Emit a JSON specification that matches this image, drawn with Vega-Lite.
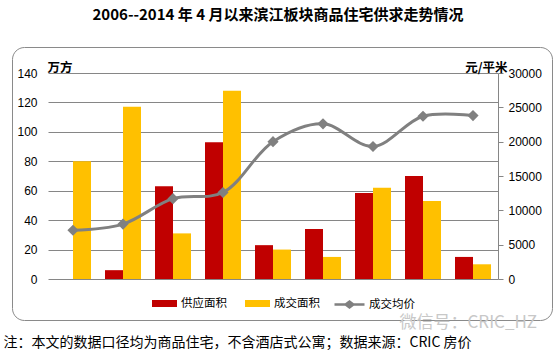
{
  "$schema": "https://vega.github.io/schema/vega-lite/v6.json",
  "width": 540,
  "height": 273,
  "autosize": {"type": "none"},
  "padding": {"left": 12, "top": 47, "right": 4, "bottom": 31},
  "background": "white",
  "config": {"view": {"stroke": "#8a8a8a", "strokeWidth": 1, "cornerRadius": 12}},
  "title": {
    "text": "2006--2014 年 4 月以来滨江板块商品住宅供求走势情况",
    "fontSize": 15,
    "fontWeight": "bold",
    "font": "Noto Sans CJK SC",
    "color": "#000000",
    "anchor": "middle",
    "offset": 24,
    "dx": -4
  },
  "datasets": {
    "area": [
      {"year": "2006", "series": "供应面积", "value": 0},
      {"year": "2006", "series": "成交面积", "value": 80},
      {"year": "2007", "series": "供应面积", "value": 6},
      {"year": "2007", "series": "成交面积", "value": 117},
      {"year": "2008", "series": "供应面积", "value": 63},
      {"year": "2008", "series": "成交面积", "value": 31},
      {"year": "2009", "series": "供应面积", "value": 93},
      {"year": "2009", "series": "成交面积", "value": 128},
      {"year": "2010", "series": "供应面积", "value": 23},
      {"year": "2010", "series": "成交面积", "value": 20},
      {"year": "2011", "series": "供应面积", "value": 34},
      {"year": "2011", "series": "成交面积", "value": 15},
      {"year": "2012", "series": "供应面积", "value": 58.5},
      {"year": "2012", "series": "成交面积", "value": 62},
      {"year": "2013", "series": "供应面积", "value": 70},
      {"year": "2013", "series": "成交面积", "value": 53},
      {"year": "2014", "series": "供应面积", "value": 15},
      {"year": "2014", "series": "成交面积", "value": 10}
    ],
    "price": [
      {"year": "2006", "series": "成交均价", "price": 7100},
      {"year": "2007", "series": "成交均价", "price": 8000},
      {"year": "2008", "series": "成交均价", "price": 11700},
      {"year": "2009", "series": "成交均价", "price": 12600},
      {"year": "2010", "series": "成交均价", "price": 20000},
      {"year": "2011", "series": "成交均价", "price": 22600},
      {"year": "2012", "series": "成交均价", "price": 19300},
      {"year": "2013", "series": "成交均价", "price": 23700},
      {"year": "2014", "series": "成交均价", "price": 23800}
    ]
  },
  "layer": [
    {
      "data": {"name": "area"},
      "mark": {"type": "bar"},
      "encoding": {
        "x": {
          "field": "year",
          "type": "nominal",
          "sort": null,
          "scale": {"range": [36, 486], "paddingInner": 0.28, "paddingOuter": 0.14},
          "axis": {
            "orient": "bottom",
            "labels": false,
            "ticks": false,
            "domain": false,
            "grid": false,
            "title": "注：本文的数据口径均为商品住宅，不含酒店式公寓；数据来源：CRIC 房价",
            "titleX": -9,
            "titleY": 26,
            "titleAlign": "left",
            "titleAnchor": "start",
            "titleBaseline": "alphabetic",
            "titleFontSize": 14,
            "titleFontWeight": "normal",
            "titleFont": "Noto Sans CJK SC",
            "titleColor": "#000000"
          }
        },
        "xOffset": {"field": "series", "type": "nominal", "sort": ["供应面积", "成交面积"]},
        "y": {
          "field": "value",
          "type": "quantitative",
          "scale": {"domain": [0, 140], "range": [232, 26], "nice": false},
          "axis": {
            "orient": "left",
            "offset": -36,
            "values": [0, 20, 40, 60, 80, 100, 120, 140],
            "domain": false,
            "ticks": false,
            "labelPadding": 11,
            "labelFont": "Liberation Sans",
            "labelFontSize": 12,
            "labelColor": "#000000",
            "grid": true,
            "gridColor": "#868686",
            "gridWidth": 1,
            "gridOpacity": 1,
            "title": "万方",
            "titleAngle": 0,
            "titleX": -1,
            "titleY": 24,
            "titleAlign": "left",
            "titleBaseline": "alphabetic",
            "titleFontSize": 12.5,
            "titleFontWeight": "bold",
            "titleFont": "Noto Sans CJK SC",
            "titleColor": "#000000"
          }
        },
        "color": {
          "field": "series",
          "type": "nominal",
          "sort": ["供应面积", "成交面积"],
          "scale": {"domain": ["供应面积", "成交面积"], "range": ["#C00000", "#FFC000"]},
          "legend": {
            "orient": "none",
            "legendX": 140,
            "legendY": 244,
            "direction": "horizontal",
            "title": null,
            "padding": 0,
            "symbolType": "M-1,-0.28H1V0.28H-1Z",
            "symbolSize": 625,
            "symbolStrokeWidth": 0,
            "symbolOpacity": 1,
            "labelFontSize": 11.5,
            "labelFont": "Noto Sans CJK SC",
            "labelColor": "#000000",
            "labelOffset": 4,
            "columnPadding": 18
          }
        }
      }
    },
    {
      "data": {"name": "price"},
      "mark": {
        "type": "line",
        "interpolate": "catmull-rom",
        "strokeWidth": 3,
        "point": {"filled": true, "shape": "diamond", "size": 70, "color": "#808080"}
      },
      "encoding": {
        "x": {
          "field": "year",
          "type": "nominal",
          "sort": null,
          "axis": {
            "orient": "bottom",
            "labels": false,
            "ticks": false,
            "domain": false,
            "grid": false,
            "title": "微信号：CRIC_HZ",
            "titleX": 387,
            "titleY": 7,
            "titleAlign": "left",
            "titleAnchor": "start",
            "titleBaseline": "alphabetic",
            "titleFontSize": 17,
            "titleFontWeight": "normal",
            "titleFont": "Noto Sans CJK SC",
            "titleColor": "#c8c8c8"
          }
        },
        "y": {
          "field": "price",
          "type": "quantitative",
          "scale": {"domain": [0, 30000], "range": [232, 26], "nice": false},
          "axis": {
            "orient": "right",
            "offset": -54,
            "values": [0, 5000, 10000, 15000, 20000, 25000, 30000],
            "domain": true,
            "domainColor": "#868686",
            "ticks": true,
            "tickSize": 5,
            "tickColor": "#868686",
            "labelPadding": 5,
            "labelFont": "Liberation Sans",
            "labelFontSize": 12,
            "labelColor": "#000000",
            "grid": false,
            "format": "d",
            "title": "元/平米",
            "titleAngle": 0,
            "titleX": 9,
            "titleY": 24,
            "titleAlign": "right",
            "titleBaseline": "alphabetic",
            "titleFontSize": 12.5,
            "titleFontWeight": "bold",
            "titleFont": "Noto Sans CJK SC",
            "titleColor": "#000000"
          }
        },
        "stroke": {
          "field": "series",
          "type": "nominal",
          "scale": {"domain": ["成交均价"], "range": ["#808080"]},
          "legend": {
            "orient": "none",
            "legendX": 321,
            "legendY": 241,
            "title": null,
            "padding": 0,
            "symbolType": "M-1,0H1M-0.26,0L0,-0.2L0.26,0L0,0.2Z",
            "symbolSize": 900,
            "symbolStrokeWidth": 2.5,
            "symbolFillColor": "#808080",
            "labelFontSize": 11.5,
            "labelFont": "Noto Sans CJK SC",
            "labelColor": "#000000",
            "labelOffset": 3
          }
        }
      }
    }
  ],
  "resolve": {"scale": {"y": "independent"}, "axis": {"x": "independent"}}
}
